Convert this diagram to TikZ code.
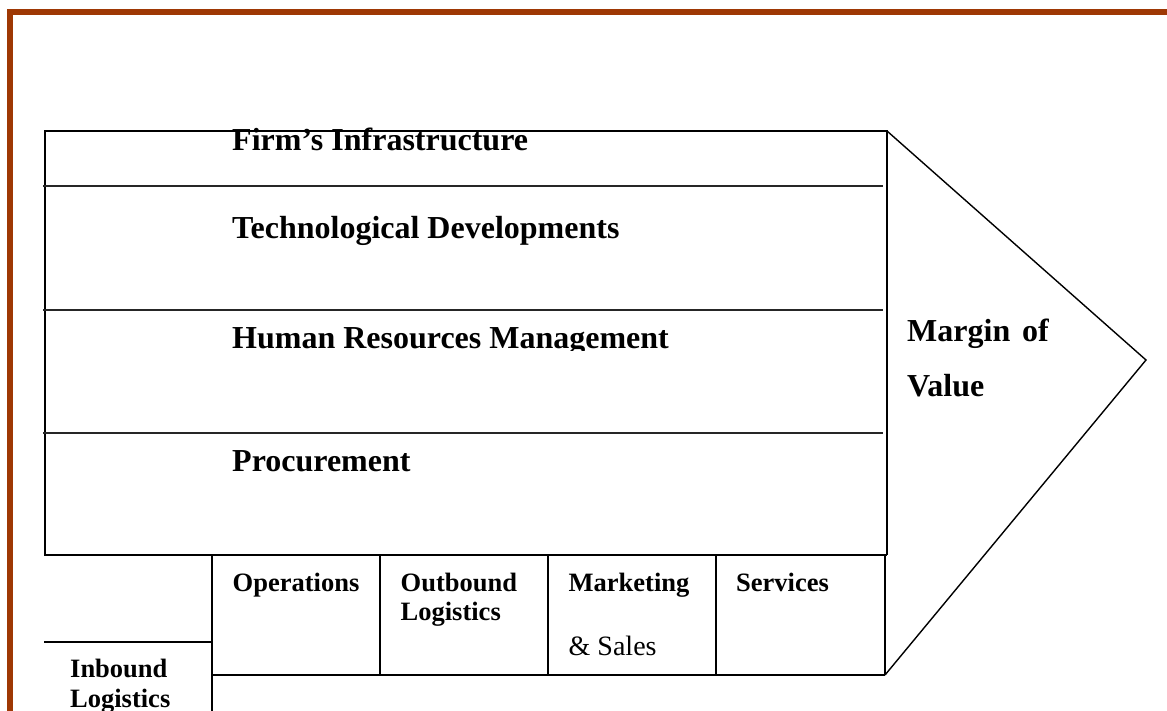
\documentclass[tikz,border=0pt]{standalone}
\usepackage{fontspec}
\setmainfont{Liberation Serif}
\definecolor{framebrown}{RGB}{158,56,4}
\tikzset{
  boxline/.style={line width=1.9pt, black},
  divline/.style={line width=1.7pt, black!85},
  arrowline/.style={line width=1.4pt, black},
  bigtxt/.style={anchor=base west, inner sep=0pt, font=\fontsize{32}{38}\selectfont\bfseries},
  smalltxt/.style={anchor=base west, inner sep=0pt, font=\fontsize{26.5}{29.5}\selectfont\bfseries, align=left},
  regtxt/.style={anchor=base west, inner sep=0pt, font=\fontsize{28}{32}\selectfont},
}
\begin{document}
\begin{tikzpicture}[x=1pt,y=-1pt]
\useasboundingbox (0,0) rectangle (1167,711);
% brown frame
\fill[framebrown] (7,9) rectangle (1167,15);
\fill[framebrown] (7,9) rectangle (13,711);
% main support activities box
\coordinate (tl) at (45,131);
\coordinate (tr) at (887,131);
\coordinate (br) at (887,555);
\coordinate (bl) at (45,555);
\coordinate (tip) at (1146,360);
\coordinate (pbot) at (885,675);
% texts
\node[bigtxt] (firm) at (232,151) {Firm’s Infrastructure};
\node[bigtxt] (tech) at (232,239) {Technological Developments};
\begin{scope}
\clip (45,312) rectangle (887,350);
\node[bigtxt] (hrm) at (232,348) {Human Resources Management};
\end{scope}
\node[bigtxt] (proc) at (232,471.5) {Procurement};
\node[bigtxt, align=left, font=\fontsize{32}{54.5}\selectfont\bfseries] (margin) at (907,396) {Margin\hspace{0.12em} of\\Value};
% lines of the support box
\draw[boxline] (bl) -- (tl) -- (tr) -- (br);
\draw[divline] (43,186) -- (883,186);
\draw[divline] (43,310) -- (883,310);
\draw[divline] (43,433) -- (883,433);
\draw[boxline] (44,555) -- (br);
% primary activities
\draw[boxline] (212,555) -- (885,555);
\draw[boxline] (212,555) -- (212,711);
\draw[boxline] (380,555) -- (380,675);
\draw[boxline] (548,555) -- (548,675);
\draw[boxline] (716,555) -- (716,675);
\draw[boxline] (885,555) -- (pbot);
\draw[boxline] (212,675) -- (pbot);
\draw[boxline] (44,642) -- (212,642);
% arrow head
\draw[arrowline, line join=miter] (tr) -- (tip) -- (pbot);
% primary labels
\node[smalltxt] (ops) at (232.5,591) {Operations};
\node[smalltxt] (outb) at (400.5,620.5) {Outbound\\Logistics};
\node[smalltxt] (mkt) at (568.5,591) {Marketing};
\node[regtxt] (sales) at (568.5,655) {\&\ Sales};
\node[smalltxt] (serv) at (736,591) {Services};
\node[smalltxt] (inb) at (70,707) {Inbound\\Logistics};
\end{tikzpicture}
\end{document}
